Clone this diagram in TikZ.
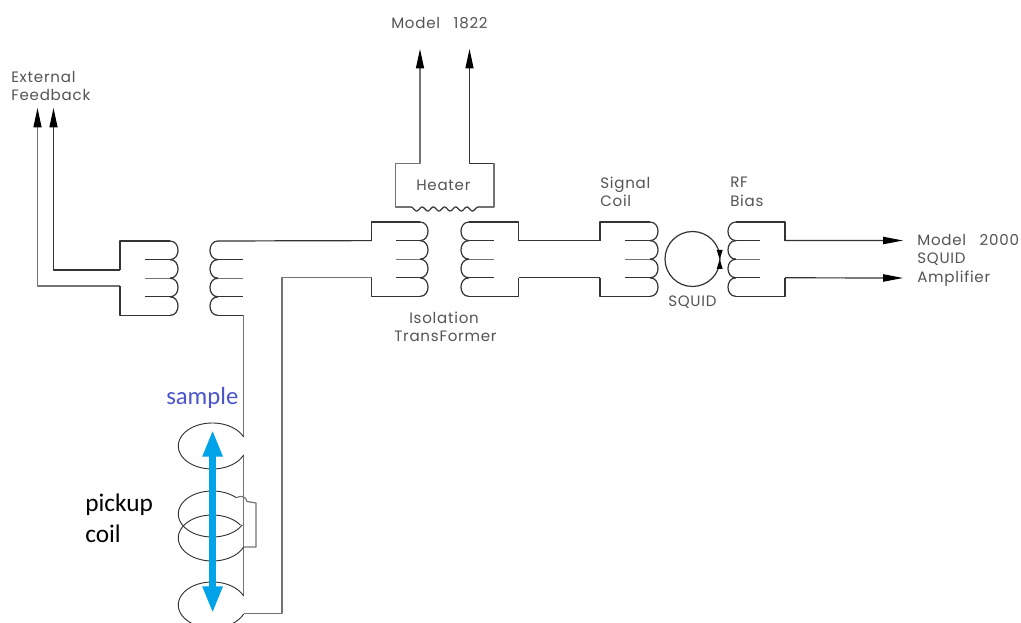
\documentclass[tikz,border=0pt]{standalone}
\usepackage{fontspec}
\setmainfont{Poppins}[LetterSpace=5]
\newfontfamily\calib{Carlito}
\usetikzlibrary{arrows.meta}
\definecolor{wiredark}{gray}{0.2}
\definecolor{wirelight}{gray}{0.45}
\definecolor{cadtext}{gray}{0.33}
\definecolor{samplearrow}{HTML}{00A2E8}
\definecolor{sampleblue}{HTML}{4A55CC}
\tikzset{
  wire/.style={draw=wiredark,line width=0.9pt,line join=round},
  lightwire/.style={draw=wirelight,line width=0.9pt,line join=round},
  thinloop/.style={draw=wiredark,line width=0.7pt},
  tipped/.style={-{Triangle[length=14.5pt,width=6pt,color=black]}},
  cadlabel/.style={anchor=base west,inner sep=0pt,text=cadtext,font=\fontsize{11.3}{13}\selectfont},
  handlabel/.style={anchor=base west,inner sep=0pt,font=\calib\fontsize{19}{22}\selectfont},
  samplearrowline/.style={draw=samplearrow,line width=4.8pt,{Triangle[length=20pt,width=14pt]}-{Triangle[length=20pt,width=14pt]}}
}
% coil bulging to the right: flat x, top y
\newcommand{\rcoil}[2]{\foreach \i in {0,1,2,3}{\draw[wire] (#1,{#2+\i*18.6}) .. controls +(10.7,0) and +(10.7,0) .. (#1,{#2+(\i+1)*18.6});}}
% coil bulging to the left
\newcommand{\lcoil}[2]{\foreach \i in {0,1,2,3}{\draw[wire] (#1,{#2+\i*18.6}) .. controls +(-10.7,0) and +(-10.7,0) .. (#1,{#2+(\i+1)*18.6});}}
% inner coil taps from x1 to x2
\newcommand{\taps}[3]{\draw[wire] (#1,{#3+18.6}) -- (#2,{#3+18.6});\draw[lightwire] (#1,{#3+37.2}) -- (#2,{#3+37.2});\draw[wire] (#1,{#3+55.8}) -- (#2,{#3+55.8});}
\begin{document}
\begin{tikzpicture}[x=0.75pt,y=-0.75pt]
\useasboundingbox (0,0) rectangle (1021,623);
\fill[white] (0,0) rectangle (1021,623);

% --- named terminals
\coordinate (fbA) at (37.5,108);
\coordinate (fbB) at (53.5,108);
\coordinate (mdA) at (420,49);
\coordinate (mdB) at (469.5,49);
\coordinate (outA) at (903,240.5);
\coordinate (outB) at (903,278);
\coordinate (aT) at (120,241);
\coordinate (aU) at (120,270);
\coordinate (aL) at (120,286);
\coordinate (aB) at (120,315.4);
\coordinate (bT) at (218,241);
\coordinate (bB) at (243.5,315.4);
\coordinate (cU) at (371.5,240.6);
\coordinate (cL) at (371.5,277.8);
\coordinate (dU) at (518.5,240.6);
\coordinate (dL) at (518.5,277.8);
\coordinate (eU) at (600,240.6);
\coordinate (eL) at (600,277.8);
\coordinate (fU) at (785,240.6);
\coordinate (fL) at (785,277.8);
\coordinate (sampTop) at (212.6,430);
\coordinate (sampBot) at (212.6,613);

% --- external feedback transformer
\draw[wire,tipped] (aU) -- (fbB |- aU) -- (fbB);
\draw[lightwire,tipped] (aL) -- (fbA |- aL) -- (fbA);
\draw[wire] (aU) -- (aT) -- (170,241);
\draw[wire] (aL) -- (aB) -- (170,315.4);
\rcoil{170}{241}
\taps{145}{170}{241}
\lcoil{218}{241}
\taps{218}{243}{241}
\draw[wire] (bT) -- (cU);
\draw[wire] (218,315.4) -- (bB);
\draw[lightwire] (bB) -- (243.5,437);
\draw[lightwire] (243.5,455) -- (243.5,596);
\draw[lightwire] (cL) -- (282,277.8) -- (282,613.8) -- (243.5,613.8);

% --- isolation transformer
\draw[wire] (cU) -- (371.5,222) -- (420,222);
\draw[wire] (cL) -- (371.5,296.4) -- (420,296.4);
\rcoil{420}{222}
\taps{396}{420}{222}
\lcoil{469}{222}
\taps{469}{493.5}{222}
\draw[wire] (469,222) -- (518.5,222) -- (dU);
\draw[wire] (469,296.4) -- (518.5,296.4) -- (dL);
\draw[wire] (dU) -- (eU);
\draw[wire] (dL) -- (eL);

% --- heater
\draw[lightwire,tipped] (395.5,163.5) -- (420,163.5) -- (mdA);
\draw[wire,tipped] (494,163.5) -- (469.5,163.5) -- (mdB);
\draw[lightwire] (395.5,163.5) -- (395.5,207) -- (411,207);
\draw[lightwire] (494,163.5) -- (494,207) -- (478,207);
\draw[wire] plot[domain=0:67,samples=90,smooth] ({411+\x},{209-2*cos(\x*32.2)});

% --- signal coil
\draw[wire] (eU) -- (600,222) -- (650,222);
\draw[wire] (eL) -- (600,296.4) -- (650,296.4);
\rcoil{650}{222}
\taps{625}{650}{222}

% --- SQUID
\draw[wire] (692.5,259) ellipse (27.5 and 27.5);
\fill[black] (716.7,250) -- (722.7,250) -- (719.7,259.3) -- (722.7,269) -- (716.7,269) -- (719.7,259.3) -- cycle;

% --- RF bias
\lcoil{736}{222}
\taps{736}{760}{222}
\draw[wire] (736,222) -- (785,222) -- (fU);
\draw[wire] (736,296.4) -- (785,296.4) -- (fL);
\draw[wire,-{Triangle[length=15pt,width=5.5pt,color=black]}] (fU) -- (outA);
\draw[wire,-{Triangle[length=15pt,width=5.5pt,color=black]}] (fL) -- (outB);

% --- pickup loops
\draw[thinloop] plot[domain=23:337,samples=70,smooth] ({212.3+34*cos(\x)},{446-23*sin(\x)});
\draw[thinloop] plot[domain=45:332,samples=70,smooth] ({212.3+34*cos(\x)},{514-23*sin(\x)});
\draw[thinloop] plot[domain=34:337,samples=70,smooth] ({212.3+34*cos(\x)},{538-23*sin(\x)});
\draw[lightwire] (236.4,497.7) .. controls (240,496) and (245,495) .. (247,501.5) -- (256,503) -- (256,547) -- (243.5,547);
\begin{scope}
\clip (0,0) rectangle (1021,623);
\draw[thinloop] plot[domain=23:337,samples=70,smooth] ({212.3+34*cos(\x)},{605-23*sin(\x)});
\end{scope}

% --- sample arrow
\draw[samplearrowline] (sampTop) -- (sampBot);

% --- labels
\node[cadlabel] (lExt) at (11,83) {External};
\node[cadlabel] (lFb) at (11,101) {Feedback};
\node[cadlabel] (lM1) at (391,29) {Model\ \ \hspace{3pt}1822};
\node[cadlabel] (lHeat) at (416,191) {Heater};
\node[cadlabel] (lSig) at (600,189) {Signal};
\node[cadlabel] (lCoil) at (600,207) {Coil};
\node[cadlabel] (lRF) at (730,188) {RF};
\node[cadlabel] (lBias) at (730,207) {Bias};
\node[cadlabel] (lIso) at (409,324) {Isolation};
\node[cadlabel] (lTr) at (394,342) {TransFormer};
\node[cadlabel] (lSq) at (668,307) {SQUID};
\node[cadlabel] (lM2) at (917,246) {Model\ \ \hspace{3pt}2000};
\node[cadlabel] (lSq2) at (917,264) {SQUID};
\node[cadlabel] (lAmp) at (917,283) {Amplifier};
\node[handlabel,text=sampleblue,font=\calib\fontsize{18.5}{22}\selectfont] (lSample) at (166,405) {sample};
\node[handlabel,text=black] (lPick) at (85,511) {pickup};
\node[handlabel,text=black] (lCoil2) at (85,542) {coil};
\end{tikzpicture}
\end{document}
